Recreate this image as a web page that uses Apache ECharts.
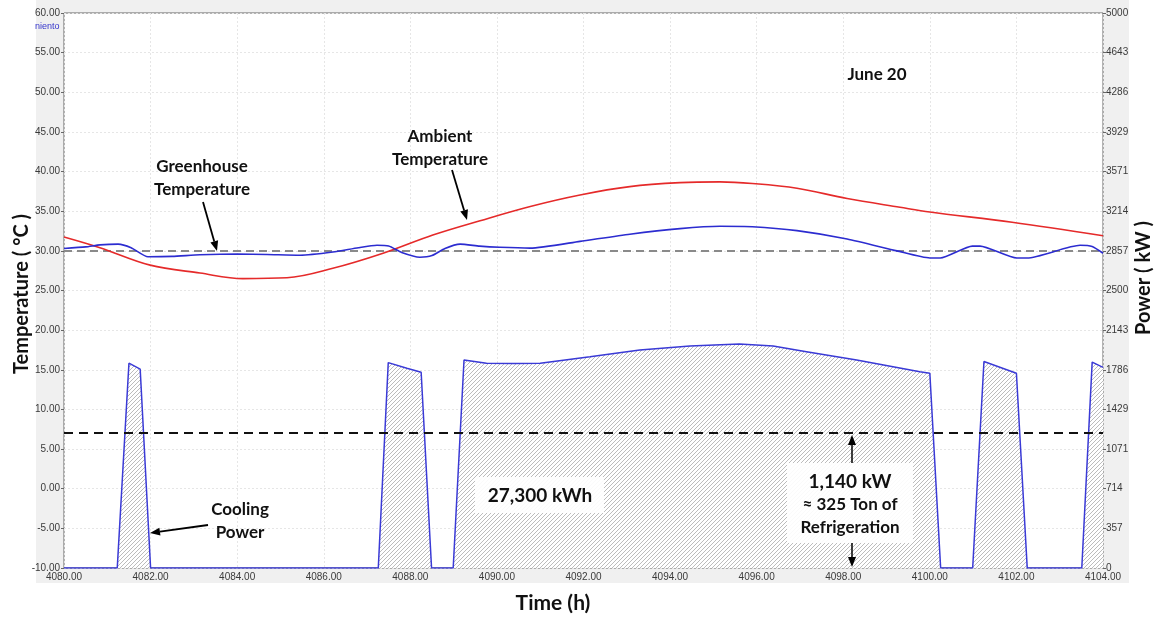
<!DOCTYPE html>
<html><head><meta charset="utf-8">
<script src="https://cdn.jsdelivr.net/npm/echarts@6/dist/echarts.min.js"></script>
<style>html,body{margin:0;padding:0;background:#fff}#c{width:1159px;height:617px}</style>
</head><body><div id="c"></div>
<script>
// ---- data ----
const timeTickLabels = ['4080.00','4082.00','4084.00','4086.00','4088.00','4090.00','4092.00','4094.00','4096.00','4098.00','4100.00','4102.00','4104.00'];
const tempTickLabels = ['-10.00','-5.00','0.00','5.00','10.00','15.00','20.00','25.00','30.00','35.00','40.00','45.00','50.00','55.00','60.00'];
const powerTickLabels = ['0','357','714','1071','1429','1786','2143','2500','2857','3214','3571','3929','4286','4643','5000'];

const ambientTime = [4080.0,4080.83,4081.99,4083.14,4084.13,4085.15,4086.21,4087.37,4088.52,4089.61,4090.77,4091.92,4093.07,4094.23,4095.15,4095.9,4096.93,4098.09,4099.31,4100.0,4101.9,4104.0];
const ambientTemp = [31.75,30.4,28.2,27.2,26.5,26.6,27.8,29.7,32.0,33.8,35.6,37.05,38.1,38.6,38.7,38.5,37.9,36.6,35.5,34.9,33.6,31.9];

const greenhouseTime = [4080.0,4080.5,4080.83,4081.25,4081.55,4081.94,4082.5,4083.14,4084.0,4084.69,4085.45,4086.21,4086.8,4087.23,4087.5,4087.8,4088.22,4088.5,4088.8,4089.15,4089.6,4090.07,4090.77,4091.92,4093.07,4094.23,4095.15,4095.9,4096.93,4098.09,4099.24,4100.0,4100.24,4100.98,4101.16,4102.01,4102.25,4103.47,4103.75,4104.0];
const greenhouseTemp = [30.3,30.5,30.75,30.85,30.4,29.25,29.3,29.5,29.6,29.55,29.45,29.85,30.4,30.7,30.6,29.8,29.2,29.4,30.3,30.85,30.6,30.45,30.35,31.2,32.1,32.8,33.1,33.05,32.55,31.5,30.0,29.1,29.1,30.6,30.6,29.1,29.1,30.7,30.55,29.7];

const powerTime = [4080.0,4081.23,4081.5,4081.76,4082.0,4087.26,4087.49,4087.92,4088.25,4088.49,4088.99,4089.24,4089.76,4090.4,4091.0,4092.15,4093.3,4094.46,4095.6,4096.38,4097.15,4098.31,4099.77,4100.0,4100.25,4100.99,4101.25,4102.0,4102.25,4103.51,4103.75,4104.0];
const powerKW = [0,0,1845,1791,0,0,1850,1800,1764,0,0,1874,1845,1843,1845,1904,1964,2000,2018,2000,1949,1874,1769,1754,0,0,1860,1754,0,0,1855,1807];

const setpointTemp = 30;
const designLineTemp = 7.0;

// ---- chart ----
function hatch(){
  const c=document.createElement('canvas'); c.width=4; c.height=4;
  const g=c.getContext('2d'); g.fillStyle='#ffffff'; g.fillRect(0,0,4,4);
  g.strokeStyle='#b4b4b4'; g.lineWidth=0.9;
  g.beginPath(); g.moveTo(0,4); g.lineTo(4,0); g.moveTo(-1,1); g.lineTo(1,-1); g.moveTo(3,5); g.lineTo(5,3); g.stroke();
  return c;
}
const zip=(a,b)=>a.map((v,i)=>[v,b[i]]);
const chart = echarts.init(document.getElementById('c'), null, {renderer:'canvas'});
const PSTEP = 5000/14;
const tickFont = {fontFamily:'Liberation Sans', fontSize:10, color:'#3a3a3a'};
const bold = 'Lato';

function arrow(x1,y1,x2,y2,w){
  w = w||1.8;
  const ang=Math.atan2(y2-y1,x2-x1), L=10, H=4;
  const bx=x2-L*Math.cos(ang), by=y2-L*Math.sin(ang);
  const px=-Math.sin(ang)*H, py=Math.cos(ang)*H;
  return [
    {type:'line', shape:{x1:x1,y1:y1,x2:bx,y2:by}, style:{stroke:'#000', lineWidth:w}, z:20},
    {type:'polygon', shape:{points:[[x2,y2],[bx+px,by+py],[bx-px,by-py]]}, style:{fill:'#000'}, z:20}
  ];
}
function txt(x,y,t,size,extra){
  return Object.assign({type:'text', x:x, y:y, z:21, style:{text:t, font:'bold '+size+'px '+bold, fill:'#111', align:'center', verticalAlign:'middle'}}, extra||{});
}

const option = {
  animation:false,
  backgroundColor:'#fff',
  grid:{left:64, right:56, top:13, bottom:49, show:true, backgroundColor:'#fff', borderColor:'#666', borderWidth:1, containLabel:false},
  xAxis:{type:'value', min:4080, max:4104, interval:2,
    axisLine:{show:false}, axisTick:{show:false},
    axisLabel:Object.assign({margin:4, formatter:(v)=>timeTickLabels[Math.round((v-4080)/2)]}, tickFont),
    splitLine:{show:true, lineStyle:{color:'#e6e6e6', type:[2,2], width:1}}},
  yAxis:[
    {type:'value', min:-10, max:60, interval:5, position:'left',
      axisLine:{show:false}, axisTick:{show:true, length:3, lineStyle:{color:'#666'}},
      axisLabel:Object.assign({margin:4, formatter:(v)=>tempTickLabels[Math.round((v+10)/5)]}, tickFont),
      splitLine:{show:true, lineStyle:{color:'#e6e6e6', type:[2,2], width:1}}},
    {type:'value', min:0, max:5000, interval:PSTEP, position:'right',
      axisLine:{show:false}, axisTick:{show:true, length:3, lineStyle:{color:'#666'}},
      axisLabel:Object.assign({margin:3, formatter:(v)=>powerTickLabels[Math.round(v/PSTEP)]}, tickFont),
      splitLine:{show:false}}
  ],
  series:[
    {name:'Cooling Power', type:'line', yAxisIndex:1, data:zip(powerTime,powerKW), showSymbol:false, z:1,
      lineStyle:{color:'#3a3ad6', width:1.5}, itemStyle:{color:'#3a3ad6'},
      areaStyle:{color:{image:hatch(), repeat:'repeat'}, opacity:1}},
    {name:'Ambient Temperature', type:'line', yAxisIndex:0, data:zip(ambientTime,ambientTemp), showSymbol:false, smooth:0.35, z:3,
      lineStyle:{color:'#e52a2a', width:1.6}, itemStyle:{color:'#e52a2a'}},
    {name:'Greenhouse Temperature', type:'line', yAxisIndex:0, data:zip(greenhouseTime,greenhouseTemp), showSymbol:false, smooth:0.2, z:4,
      lineStyle:{color:'#2c2cd0', width:1.6}, itemStyle:{color:'#2c2cd0'},
      markLine:{silent:true, symbol:'none', label:{show:false}, z:2, data:[
        {yAxis:setpointTemp, lineStyle:{color:'#8a8a8a', type:[8,5], width:2}},
        {yAxis:designLineTemp, lineStyle:{color:'#111', type:[9,6], width:2}}
      ]}}
  ],
  graphic:[
    {type:'rect', shape:{x:36, y:0, width:1093, height:583}, style:{fill:'#f0f0f0'}, z:-10, silent:true},
    {type:'text', x:35, y:27, z:5, style:{text:'niento', font:'9px Liberation Sans', fill:'#3535cc', verticalAlign:'middle'}},
    txt(22, 294, 'Temperature ( °C )', 20, {rotation:Math.PI/2}),
    txt(1144, 278, 'Power ( kW )', 20, {rotation:Math.PI/2}),
    txt(553, 603, 'Time (h)', 21),
    txt(877, 75, 'June 20', 17),
    txt(440, 137, 'Ambient', 17), txt(440, 160, 'Temperature', 17),
    txt(202, 167, 'Greenhouse', 17), txt(202, 190, 'Temperature', 17),
    ...arrow(203,202,217,251),
    ...arrow(452,170,467,220),
    txt(240, 510, 'Cooling', 17), txt(240, 533, 'Power', 17),
    ...arrow(208,525,150,533),
    {type:'rect', shape:{x:475, y:477, width:129, height:36}, style:{fill:'rgba(255,255,255,0.92)'}, z:19},
    txt(540, 496, '27,300 kWh', 19),
    {type:'rect', shape:{x:787, y:463, width:126, height:80}, style:{fill:'rgba(255,255,255,0.92)'}, z:19},
    txt(850, 482, '1,140 kW', 19),
    txt(850, 505, '≈ 325 Ton of', 17),
    txt(850, 528, 'Refrigeration', 17),
    ...arrow(852,463,852,435,1.5),
    ...arrow(852,543,852,567,1.5)
  ]
};
chart.setOption(option);
</script>
</body></html>
